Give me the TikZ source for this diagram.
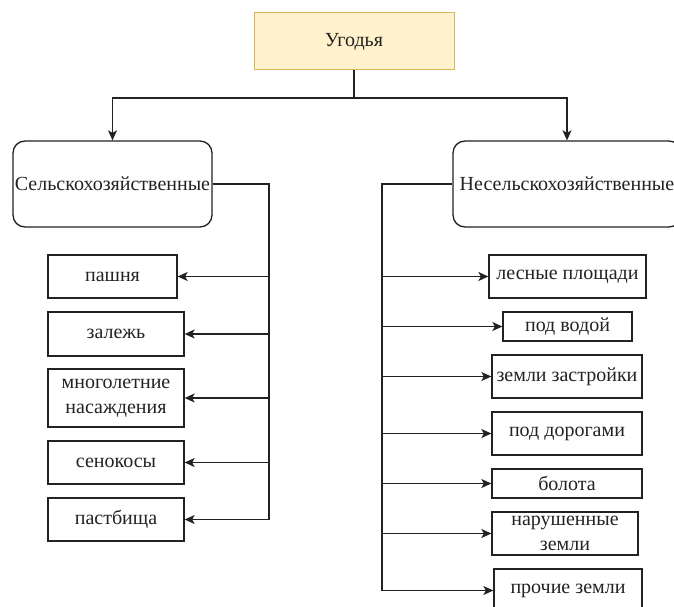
\documentclass[tikz,border=0pt]{standalone}
\usepackage{fontspec}
\setmainfont{Liberation Serif}
\newfontfamily\lserif{Liberation Serif}
\usetikzlibrary{arrows.meta}
\definecolor{topfill}{HTML}{FFF2CC}
\definecolor{topdraw}{HTML}{D6B656}
\definecolor{ink}{HTML}{222222}
\begin{document}
\begin{tikzpicture}[x=1pt,y=-1pt,
  every node/.style={font=\lserif\fontsize{20}{25}\selectfont, text=ink, inner sep=0pt, align=center},
  leaf/.style={draw=ink, line width=1.3pt, rectangle},
  cat/.style={draw=ink, line width=1.3pt, rectangle, rounded corners=12pt},
  conn/.style={draw=ink, line width=1.3pt},
  arr/.style={conn, -{Stealth[length=10pt,width=9pt,inset=2.5pt]}}]
\useasboundingbox (0,0) rectangle (674,607);
\begin{scope}
\clip (0,0) rectangle (674,607);
% top
\node[draw=topdraw, fill=topfill, line width=1pt, minimum width=200pt, minimum height=57pt] (top) at (354,41.5) {Угодья};
% categories
\node[cat, minimum width=199pt, minimum height=86pt] (sel) at (112.5,184) {Сельскохозяйственные};
\node[cat, minimum width=228pt, minimum height=86pt] (nes) at (567,184) {Несельскохозяйственные};
% left leaves
\node[leaf, minimum width=129pt, minimum height=43pt] (pash) at (112.5,276.5) {пашня};
\node[leaf, minimum width=136pt, minimum height=44pt] (zal) at (116,334) {залежь};
\node[leaf, minimum width=136pt, minimum height=58pt] (mng) at (116,398) {многолетние\\насаждения};
\node[leaf, minimum width=136pt, minimum height=43pt] (sen) at (116,462.5) {сенокосы};
\node[leaf, minimum width=136pt, minimum height=43pt] (past) at (116,519.5) {пастбища};
% right leaves
\node[leaf, minimum width=157pt, minimum height=43pt] (les) at (567.5,276.5) {лесные площади};
\node[leaf, minimum width=129pt, minimum height=29pt] (vod) at (567.5,326.5) {под водой};
\node[leaf, minimum width=150pt, minimum height=43pt] (zas) at (567,376.5) {земли застройки};
\node[leaf, minimum width=150pt, minimum height=43pt] (dor) at (567,433.5) {под дорогами};
\node[leaf, minimum width=150pt, minimum height=29pt] (bol) at (567,483.5) {болота};
\node[leaf, minimum width=146pt, minimum height=43pt] (nar) at (565,533.5) {нарушенные\\земли};
\node[leaf, minimum width=148pt, minimum height=43pt] (pro) at (568,590.5) {прочие земли};
% junction coordinates
\coordinate (hy) at (0,98);
\coordinate (lx) at (269,0);
\coordinate (rx) at (382,0);
% top connectors
\draw[conn] (top.south) -- (top.south |- hy);
\draw[arr] (top.south |- hy) -| (sel.north);
\draw[arr] (top.south |- hy) -| (nes.north);
% left tree
\draw[conn] (sel.east) -- (lx |- sel.east) -- (lx |- past.east);
\foreach \b in {pash,zal,mng,sen,past}
  \draw[arr] (lx |- \b.east) -- (\b.east);
% right tree
\draw[conn] (nes.west) -- (rx |- nes.west) -- (rx |- pro.west);
\foreach \b in {les,vod,zas,dor,bol,nar,pro}
  \draw[arr] (rx |- \b.west) -- (\b.west);
\end{scope}
\end{tikzpicture}
\end{document}
